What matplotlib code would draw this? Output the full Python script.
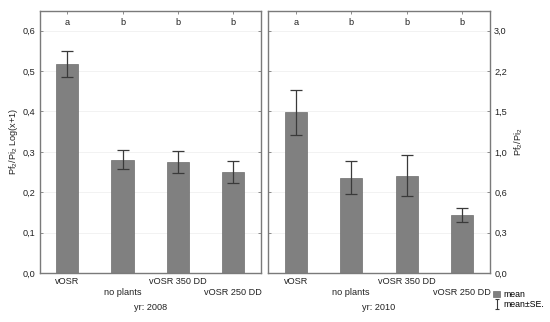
import matplotlib
matplotlib.use("Agg")
import matplotlib.pyplot as plt
from matplotlib.lines import Line2D
from matplotlib.patches import Patch
from matplotlib.path import Path

plt.rcParams['font.family'] = ['Liberation Sans', 'DejaVu Sans']
plt.rcParams['mathtext.default'] = 'regular'

categories = ["vOSR", "no plants", "vOSR 350 DD", "vOSR 250 DD"]
letters = ["a", "b", "b", "b"]
years = ["yr: 2008", "yr: 2010"]
mean_2008 = [0.518, 0.281, 0.274, 0.249]
se_hi_2008 = [0.550, 0.305, 0.303, 0.277]
se_lo_2008 = [0.485, 0.257, 0.247, 0.222]
mean_2010 = [0.398, 0.236, 0.241, 0.144]
se_hi_2010 = [0.454, 0.277, 0.292, 0.162]
se_lo_2010 = [0.341, 0.195, 0.190, 0.127]
left_ticks = [0.0, 0.1, 0.2, 0.3, 0.4, 0.5, 0.6]
left_ticklabels = ["0,0", "0,1", "0,2", "0,3", "0,4", "0,5", "0,6"]
right_ticklabels = ["0,0", "0,3", "0,6", "1,0", "1,5", "2,2", "3,0"]

fig = plt.figure(figsize=(5.5, 3.22), dpi=100)
ax1 = fig.add_axes([39.5/550, 1-273/322, (261-39.5)/550, (273-10.5)/322])
ax2 = fig.add_axes([268/550, 1-273/322, (490-268)/550, (273-10.5)/322])

frame_c = '#7a7a7a'
bar_c = '#808080'
err_c = '#3a3a3a'
txt_c = '#222222'
fs = 6.6

datasets = [(mean_2008, se_lo_2008, se_hi_2008), (mean_2010, se_lo_2010, se_hi_2010)]
for ax, (m, lo, hi), yr in zip([ax1, ax2], datasets, years):
    x = list(range(len(categories)))
    ax.set_ylim(0, 0.65)
    ax.set_xlim(-0.5, len(categories) - 0.5)
    for t in left_ticks:
        ax.axhline(t, color='#f0f0f0', lw=0.6, zorder=0)
    ax.bar(x, m, width=0.4, color=bar_c, edgecolor='#6e6e6e', linewidth=0.5, zorder=2)
    yerr = [[mi - l for mi, l in zip(m, lo)], [h - mi for mi, h in zip(m, hi)]]
    ax.errorbar(x, m, yerr=yerr, fmt='none', ecolor=err_c, elinewidth=0.9,
                capsize=4, capthick=0.9, zorder=3)
    for xi, let in zip(x, letters):
        ax.text(xi, 0.621, let, ha='center', va='center', fontsize=fs, color=txt_c)
    for s in ax.spines.values():
        s.set_color(frame_c)
        s.set_linewidth(1.0)
    ax.set_xticks(x)
    ax.set_xticklabels([])
    for xi, c in enumerate(categories):
        off = -0.033 if xi % 2 == 0 else -0.076
        ax.text(xi, off, c, ha='center', va='center', fontsize=fs, color=txt_c,
                transform=ax.get_xaxis_transform())
    ax.text(0.5, -0.133, yr, ha='center', va='center', fontsize=fs, color=txt_c,
            transform=ax.transAxes)
    ax.tick_params(axis='x', direction='in', length=2, width=0.6, color=frame_c,
                   top=True, bottom=True)
    ax.set_yticks(left_ticks)

ax1.set_yticklabels(left_ticklabels, fontsize=fs, color=txt_c)
ax1.tick_params(axis='y', direction='in', length=2, width=0.6, color=frame_c,
                right=True, pad=3)
ax1.set_ylabel("Pf$_2$/Pi$_2$ Log(x+1)", fontsize=fs, color=txt_c, labelpad=2)

ax2.tick_params(axis='y', direction='in', length=2, width=0.6, color=frame_c,
                left=True, right=True, labelleft=False, labelright=True, pad=3)
ax2.set_yticklabels(right_ticklabels, fontsize=fs, color=txt_c)
ax2.yaxis.set_label_position('right')
ax2.set_ylabel("Pf$_2$/Pi$_2$", fontsize=fs, color=txt_c, labelpad=4)

ibeam = Path([(-0.5, 1), (0.5, 1), (0, 1), (0, -1), (-0.5, -1), (0.5, -1)],
             [Path.MOVETO, Path.LINETO, Path.MOVETO, Path.LINETO, Path.MOVETO, Path.LINETO])
handles = [Patch(facecolor=bar_c, edgecolor='#6e6e6e', linewidth=0.5),
           Line2D([0], [0], color=err_c, marker=ibeam, markersize=7, lw=0,
                  markeredgewidth=0.8)]
fig.legend(handles, ["mean", "mean±SE."], loc='upper left',
           bbox_to_anchor=(493/550, 1-290/322), frameon=False, fontsize=6.3,
           handlelength=0.8, handleheight=0.8, handletextpad=0.4, labelspacing=0.15,
           borderaxespad=0, borderpad=0)

fig.savefig("out.png", dpi=100)
